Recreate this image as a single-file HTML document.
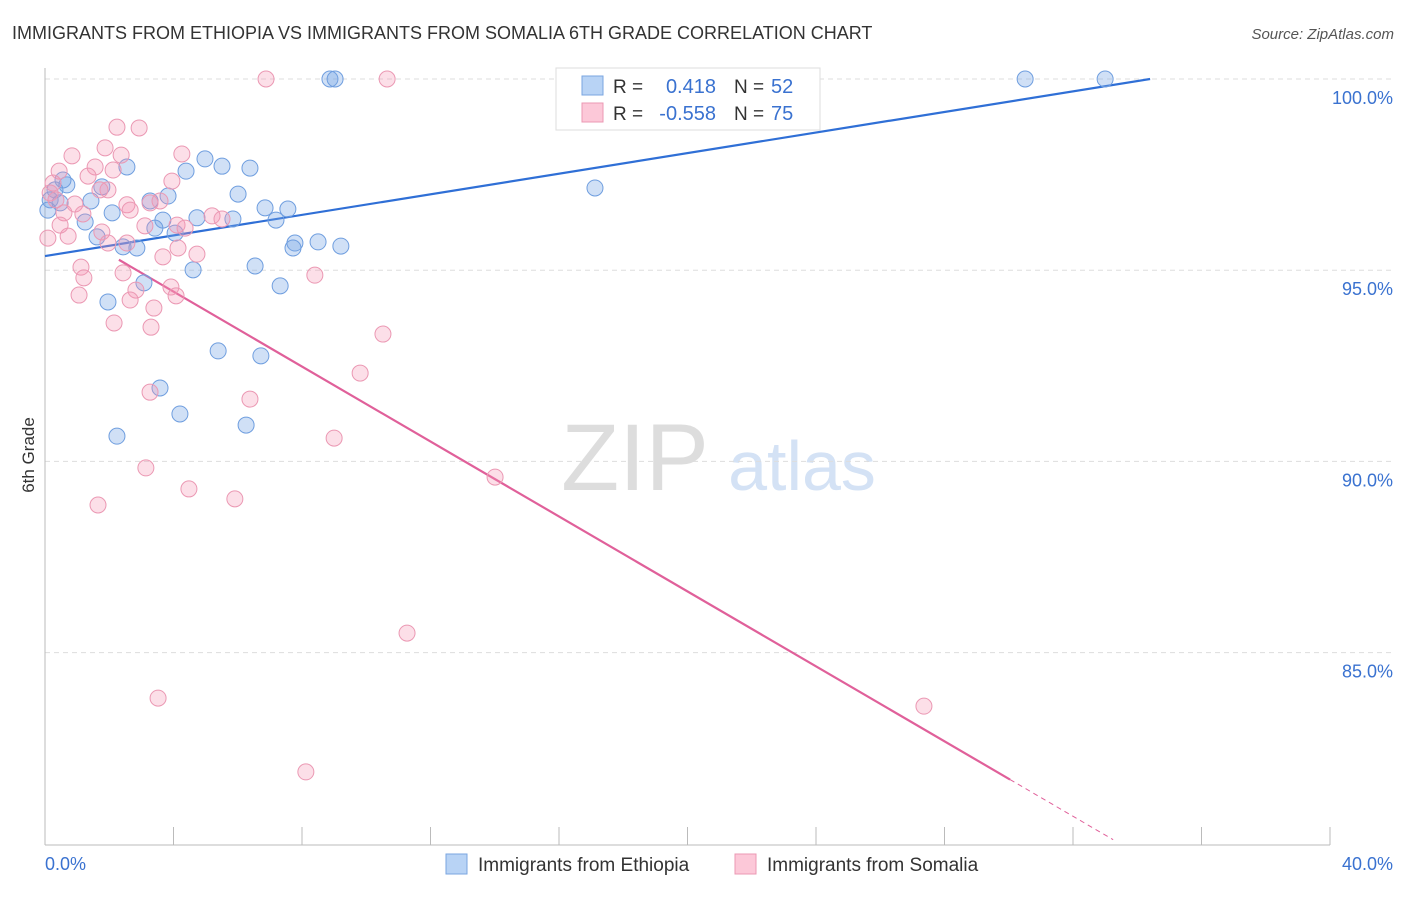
<!DOCTYPE html>
<html><head><meta charset="utf-8"><style>
body{margin:0;background:#fff;font-family:"Liberation Sans",sans-serif;}
svg text{font-family:"Liberation Sans",sans-serif;}
</style></head><body>
<svg id="chart" width="1406" height="892">
<text x="12" y="39" font-size="18" fill="#333">IMMIGRANTS FROM ETHIOPIA VS IMMIGRANTS FROM SOMALIA 6TH GRADE CORRELATION CHART</text>
<text x="1394" y="39" font-size="15" fill="#555" text-anchor="end" font-style="italic">Source: ZipAtlas.com</text>
<text x="34" y="455" font-size="17" fill="#333" text-anchor="middle" transform="rotate(-90 34 455)">6th Grade</text>
<g><text x="635" y="490" font-size="95" fill="#ddd" text-anchor="middle" font-family="Liberation Serif">ZIP</text><text x="802" y="490" font-size="70" fill="#d4e2f5" text-anchor="middle">atlas</text></g>
<g id="grid"></g><g id="axes"></g><g id="lines"></g><g id="points"></g>
<g>
<rect x="556" y="68" width="264" height="62" fill="#fff" stroke="#ddd"/>
<rect x="582" y="76" width="21" height="19" fill="#b8d3f5" stroke="#7aa6e0"/>
<rect x="582" y="103" width="21" height="19" fill="#fcc8d8" stroke="#eb98b3"/>
<text x="613" y="93" font-size="19" fill="#333">R =</text><text x="716" y="93" font-size="20" fill="#3a72d0" text-anchor="end">0.418</text>
<text x="734" y="93" font-size="19" fill="#333">N =</text><text x="771" y="93" font-size="20" fill="#3a72d0">52</text>
<text x="613" y="120" font-size="19" fill="#333">R =</text><text x="716" y="120" font-size="20" fill="#3a72d0" text-anchor="end">-0.558</text>
<text x="734" y="120" font-size="19" fill="#333">N =</text><text x="771" y="120" font-size="20" fill="#3a72d0">75</text>
</g>
<g>
<rect x="446" y="854" width="21" height="20" fill="#b8d3f5" stroke="#7aa6e0"/>
<text x="478" y="871" font-size="19" fill="#333">Immigrants from Ethiopia</text>
<rect x="735" y="854" width="21" height="20" fill="#fcc8d8" stroke="#eb98b3"/>
<text x="767" y="871" font-size="19" fill="#333">Immigrants from Somalia</text>
</g>
</svg>
<script>
const blueX=[8.87,9.03,30.51,33.0,23.28,17.12,2.55,4.98,5.51,6.38,4.39,3.83,3.27,6.01,6.85,7.56,5.85,7.19,4.73,3.67,4.05,3.42,2.86,2.43,1.62,1.25,2.09,1.77,1.43,0.68,0.56,0.31,0.16,0.47,7.78,7.72,8.50,9.21,6.54,4.61,3.08,1.96,7.32,5.39,6.72,3.58,4.20,6.26,2.24,0.09];
const blueY=[100,100,100,100,100,97.15,97.70,97.91,97.72,97.67,97.59,96.94,96.81,96.99,96.63,96.60,96.34,96.31,96.37,96.31,95.97,96.10,95.58,95.61,95.87,96.26,96.50,97.18,96.81,97.23,97.36,97.10,96.84,96.76,95.71,95.58,95.74,95.63,95.11,95.01,94.67,94.17,94.59,92.89,92.76,91.92,91.24,90.95,90.66,96.57];
const pinkX=[6.88,10.65,2.24,2.93,1.87,0.84,4.26,2.37,0.44,1.56,2.12,1.34,1.96,3.95,0.25,0.16,0.34,0.93,0.59,1.18,2.55,3.27,3.58,5.20,5.51,4.11,3.11,2.65,1.77,0.72,0.09,1.96,2.55,4.73,3.67,4.14,1.12,2.43,1.21,8.40,2.83,3.92,4.08,1.06,2.65,3.39,2.15,3.30,10.52,9.81,3.27,6.38,9.00,14.01,3.14,4.48,5.91,1.65,11.27,3.52,27.36,8.12,0.47,4.36,1.71];
const pinkY=[100,100,98.74,98.72,98.20,97.99,98.04,98.01,97.59,97.70,97.62,97.46,97.10,97.33,97.28,97.02,96.84,96.73,96.50,96.47,96.71,96.76,96.81,96.42,96.34,96.18,96.16,96.57,96.00,95.89,95.84,95.71,95.71,95.42,95.35,95.58,95.08,94.93,94.80,94.87,94.48,94.56,94.33,94.35,94.22,94.01,93.62,93.51,93.33,92.31,91.81,91.63,90.61,89.59,89.83,89.28,89.02,88.86,85.51,83.81,83.60,81.88,96.18,96.10,97.10];
const yTicks=[100,95,90,85];
const yTickLabels=["100.0%","95.0%","90.0%","85.0%"];
const blueLine=[0,95.37,34.4,100];
const pinkLine=[2.3,96.4,-0.49,30.04,33.25];
const NS="http://www.w3.org/2000/svg";
const sx=v=>45+v*32.125, sy=v=>79+(100-v)*38.24;
function mk(t,a,p){const e=document.createElementNS(NS,t);for(const k in a)e.setAttribute(k,a[k]);p.appendChild(e);return e;}
const grid=document.getElementById('grid'),axes=document.getElementById('axes'),lines=document.getElementById('lines'),pts=document.getElementById('points');
yTicks.forEach((t,i)=>{const l=mk('line',{x1:45,x2:1394,y1:sy(t),y2:sy(t),stroke:'#ddd','stroke-dasharray':'5,4'},grid);


const tx=mk('text',{x:1393,y:sy(t)+25,'font-size':18,fill:'#3a72d0','text-anchor':'end'},axes);tx.textContent=yTickLabels[i];

});
const ax=mk('line',{x1:45,x2:1330,y1:845,y2:845,stroke:'#bbb'},axes);


const ay=mk('line',{x1:45,x2:45,y1:68,y2:845,stroke:'#bbb'},axes);


for(let i=0;i<=10;i++){const tk=mk('line',{x1:sx(i*4),x2:sx(i*4),y1:827,y2:845,stroke:'#bbb'},axes);

}
const xl0=mk('text',{x:45,y:870,'font-size':18,fill:'#3a72d0'},axes);xl0.textContent='0.0%';


const xl1=mk('text',{x:1393,y:870,'font-size':18,fill:'#3a72d0','text-anchor':'end'},axes);xl1.textContent='40.0%';


blueX.forEach((x,i)=>{const c=mk('circle',{cx:sx(x),cy:sy(blueY[i]),r:8,fill:'rgba(120,165,230,0.35)',stroke:'#6f9edf','stroke-width':1},pts);

});
pinkX.forEach((x,i)=>{const c=mk('circle',{cx:sx(x),cy:sy(pinkY[i]),r:8,fill:'rgba(245,150,180,0.3)',stroke:'#eb98b3','stroke-width':1},pts);

});
const bl=mk('line',{x1:sx(blueLine[0]),y1:sy(blueLine[1]),x2:sx(blueLine[2]),y2:sy(blueLine[3]),stroke:'#2f6fd6','stroke-width':2.2},lines);


const pf=x=>pinkLine[1]+pinkLine[2]*x;
const pl=mk('line',{x1:sx(pinkLine[0]),y1:sy(pf(pinkLine[0])),x2:sx(pinkLine[3]),y2:sy(pf(pinkLine[3])),stroke:'#e0609a','stroke-width':2.2},lines);


const pd=mk('line',{x1:sx(pinkLine[3]),y1:sy(pf(pinkLine[3])),x2:sx(pinkLine[4]),y2:sy(pf(pinkLine[4])),stroke:'#e0609a','stroke-width':1,'stroke-dasharray':'5,4'},lines);


</script>
</body></html>
